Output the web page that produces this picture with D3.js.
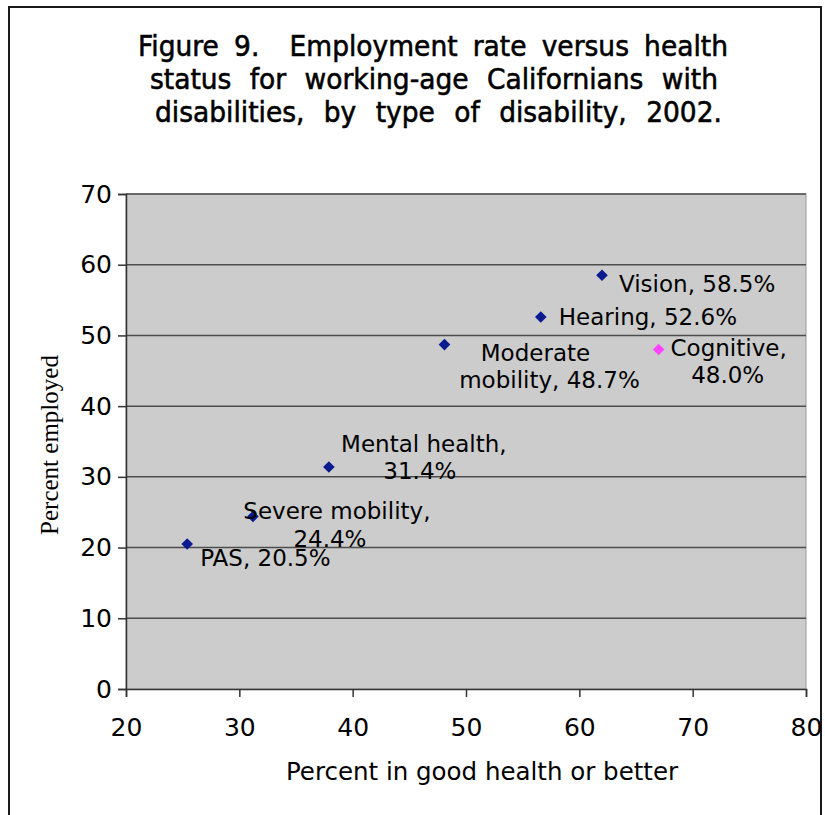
<!DOCTYPE html>
<html>
<head>
<meta charset="utf-8">
<script src="https://cdn.jsdelivr.net/npm/d3@7"></script>
<style>
  html, body { margin: 0; padding: 0; background: #fff; }
  svg { display: block; }
</style>
</head>
<body>
<svg id="chart" width="825" height="815"></svg>
<script>
// ---- data ----
const categories = ["PAS", "Severe mobility", "Mental health", "Moderate mobility", "Hearing", "Vision", "Cognitive"];
const goodHealth = [25.4, 31.2, 37.9, 48.1, 56.6, 62.0, 67.0];
const employed   = [20.5, 24.4, 31.4, 48.7, 52.6, 58.5, 48.0];
const labelLines = [
  ["PAS, 20.5%"],
  ["Severe mobility,", "24.4%"],
  ["Mental health,", "31.4%"],
  ["Moderate", "mobility, 48.7%"],
  ["Hearing, 52.6%"],
  ["Vision, 58.5%"],
  ["Cognitive,", "48.0%"]
];
const xTicks = [20, 30, 40, 50, 60, 70, 80];
const yTicks = [0, 10, 20, 30, 40, 50, 60, 70];
const titleLines = [
  "Figure 9.  Employment rate versus health",
  "status for working-age Californians with",
  "disabilities, by type of disability, 2002."
];
const xTitle = "Percent in good health or better";
const yTitle = "Percent employed";

// ---- layout (not data) ----
const plot = { left: 126, right: 806, top: 194, bottom: 689 };
const titleLayout = [
  { x0: 138, x1: 728, y: 56 },
  { x0: 150, x1: 718, y: 89 },
  { x0: 155, x1: 722, y: 122 }
];
const titleScaleX = 0.93;
// label offsets relative to marker: anchor, dx per line, dy per line
const labelLayout = [
  { anchor: "start",  dx: [13],       dy: [22] },
  { anchor: "middle", dx: [84, 77],   dy: [3, 31] },
  { anchor: "middle", dx: [95, 91],   dy: [-15, 12] },
  { anchor: "middle", dx: [91, 105],  dy: [16, 43] },
  { anchor: "start",  dx: [18],       dy: [8] },
  { anchor: "start",  dx: [17],       dy: [17] },
  { anchor: "middle", dx: [70, 69],   dy: [6, 33] }
];
const markerColors = ["#0a1a8f", "#0a1a8f", "#0a1a8f", "#0a1a8f", "#0a1a8f", "#0a1a8f", "#ff44ff"];

const svg = d3.select("#chart");

// outer border
svg.append("rect")
  .attr("x", 9).attr("y", 7).attr("width", 812).attr("height", 830)
  .attr("fill", "none").attr("stroke", "#1a1a1a").attr("stroke-width", 2);

// title (slightly condensed, justified by word spacing)
const titleG = svg.append("g").attr("font-family", "'DejaVu Sans', sans-serif")
  .attr("font-size", 28.5).attr("fill", "#000").attr("stroke", "#000").attr("stroke-width", 0.6);
titleLines.forEach((line, i) => {
  const L = titleLayout[i];
  const g = titleG.append("g").attr("transform", `translate(${L.x0},${L.y}) scale(${titleScaleX},1)`);
  const t = g.append("text").attr("x", 0).attr("y", 0).attr("xml:space", "preserve").text(line);
  const w = t.node().getComputedTextLength();
  const gaps = (line.match(/ /g) || []).length;
  const extra = ((L.x1 - L.x0) / titleScaleX - w) / gaps;
  t.attr("word-spacing", extra);
});

const x = d3.scaleLinear().domain([20, 80]).range([plot.left, plot.right]);
const y = d3.scaleLinear().domain([0, 70]).range([plot.bottom, plot.top]);

// plot area
svg.append("rect")
  .attr("x", plot.left).attr("y", plot.top)
  .attr("width", plot.right - plot.left).attr("height", plot.bottom - plot.top)
  .attr("fill", "#cccccc").attr("stroke", "#999").attr("stroke-width", 1);

// gridlines
svg.append("g").selectAll("line").data(yTicks.filter(d => d > 0)).join("line")
  .attr("x1", plot.left).attr("x2", plot.right)
  .attr("y1", d => y(d)).attr("y2", d => y(d))
  .attr("stroke", "#4d4d4d").attr("stroke-width", 1.5);

// axes
const yAxis = svg.append("g").attr("transform", `translate(${plot.left},0)`)
  .call(d3.axisLeft(y).tickValues(yTicks).tickSize(8).tickPadding(6).tickFormat(d3.format("d")));
yAxis.select(".domain").attr("stroke", "#333").attr("stroke-width", 1.5);
yAxis.selectAll(".tick line").attr("stroke", "#333").attr("stroke-width", 1.5);
yAxis.selectAll("text").attr("font-family", "'DejaVu Sans', sans-serif").attr("font-size", 25).attr("fill", "#000");

const xAxis = svg.append("g").attr("transform", `translate(0,${plot.bottom})`)
  .call(d3.axisBottom(x).tickValues(xTicks).tickSize(8).tickPadding(21).tickFormat(d3.format("d")));
xAxis.select(".domain").attr("stroke", "#333").attr("stroke-width", 1.5);
xAxis.selectAll(".tick line").attr("stroke", "#333").attr("stroke-width", 1.5);
xAxis.selectAll("text").attr("font-family", "'DejaVu Sans', sans-serif").attr("font-size", 25).attr("fill", "#000");

// axis titles
svg.append("text")
  .attr("x", 482).attr("y", 780).attr("text-anchor", "middle")
  .attr("font-family", "'DejaVu Sans', sans-serif").attr("font-size", 24.5).attr("fill", "#000")
  .text(xTitle);
svg.append("text")
  .attr("transform", "translate(58,445) rotate(-90)").attr("text-anchor", "middle")
  .attr("font-family", "'Liberation Serif', 'Times New Roman', serif").attr("font-size", 25).attr("fill", "#000")
  .text(yTitle);

// markers (diamond shape)
const diamond = (r) => `M0,${-r}L${r},0L0,${r}L${-r},0Z`;
const pts = categories.map((c, i) => ({ c, x: goodHealth[i], y: employed[i], i }));
svg.append("g").selectAll("path").data(pts).join("path")
  .attr("d", diamond(5.8))
  .attr("transform", d => `translate(${x(d.x)},${y(d.y)})`)
  .attr("fill", d => markerColors[d.i]);

// labels
const lg = svg.append("g").attr("font-family", "'DejaVu Sans', sans-serif").attr("font-size", 23).attr("fill", "#000");
pts.forEach(d => {
  const L = labelLayout[d.i];
  labelLines[d.i].forEach((line, k) => {
    lg.append("text")
      .attr("x", x(d.x) + L.dx[k]).attr("y", y(d.y) + L.dy[k])
      .attr("text-anchor", L.anchor)
      .text(line);
  });
});
</script>
</body>
</html>
